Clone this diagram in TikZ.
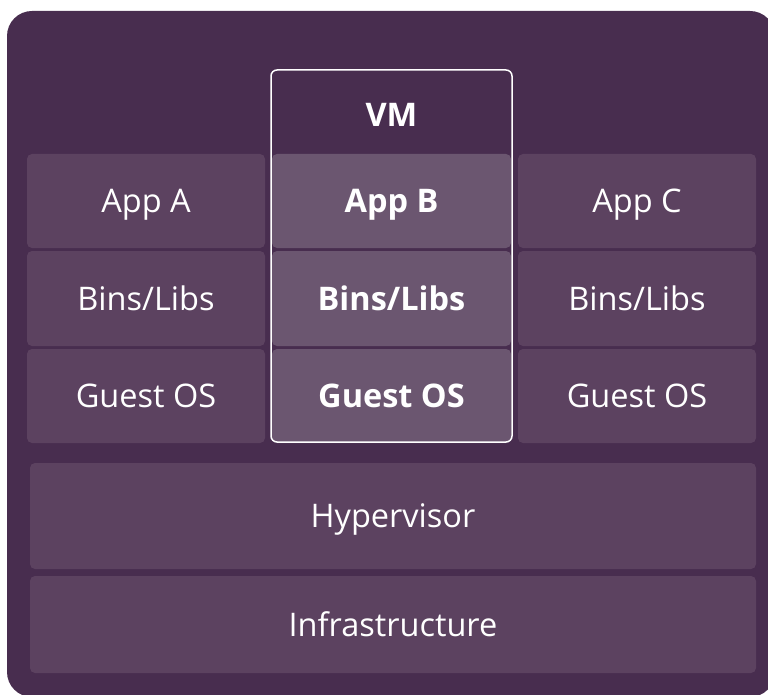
\documentclass[tikz,border=0pt]{standalone}
\usepackage{fontspec}
\setmainfont{Open Sans}
\definecolor{bgpurple}{HTML}{482D4F}
\definecolor{boxpurple}{HTML}{5C4260}
\definecolor{vmpurple}{HTML}{6B5670}
\tikzset{
  labeltext/.style={text=white, font=\fontsize{32.5}{38}\selectfont, text height=23pt, text depth=0pt},
  layer/.style={labeltext, fill=boxpurple, rounded corners=5pt, inner sep=0pt},
  vmlayer/.style={layer, fill=vmpurple, font=\fontsize{32.5}{38}\selectfont\bfseries},
}
\begin{document}
\begin{tikzpicture}[x=1pt,y=-1pt]
\useasboundingbox (0,0) rectangle (768,695);
\clip (0,0) rectangle (768,695);
\fill[bgpurple, rounded corners=25pt] (7,11) rectangle (775,697);
% left column
\node[layer, minimum width=238pt, minimum height=94pt] (appa) at (146,201) {App A};
\node[layer, minimum width=238pt, minimum height=95pt] (binsa) at (146,298.5) {Bins/Libs};
\node[layer, minimum width=238pt, minimum height=94pt] (osa) at (146,396) {Guest OS};
% VM column
\node[vmlayer, minimum width=239pt, minimum height=94pt] (appb) at (391.5,201) {App B};
\node[vmlayer, minimum width=239pt, minimum height=95pt] (binsb) at (391.5,298.5) {Bins/Libs};
\node[vmlayer, minimum width=239pt, minimum height=94pt] (osb) at (391.5,396) {Guest OS};
\draw[white, line width=1.5pt, rounded corners=6pt] (271,70) rectangle (512,442);
\node[labeltext, font=\fontsize{32.5}{38}\selectfont\bfseries, inner sep=0pt] (vm) at (391.5,115) {VM};
% right column
\node[layer, minimum width=238pt, minimum height=94pt] (appc) at (637,201) {App C};
\node[layer, minimum width=238pt, minimum height=95pt] (binsc) at (637,298.5) {Bins/Libs};
\node[layer, minimum width=238pt, minimum height=94pt] (osc) at (637,396) {Guest OS};
% bottom layers
\node[layer, minimum width=726pt, minimum height=106pt] (hyp) at (393,516) {Hypervisor};
\node[layer, minimum width=726pt, minimum height=97pt] (infra) at (393,624.5) {Infrastructure};
\end{tikzpicture}
\end{document}
